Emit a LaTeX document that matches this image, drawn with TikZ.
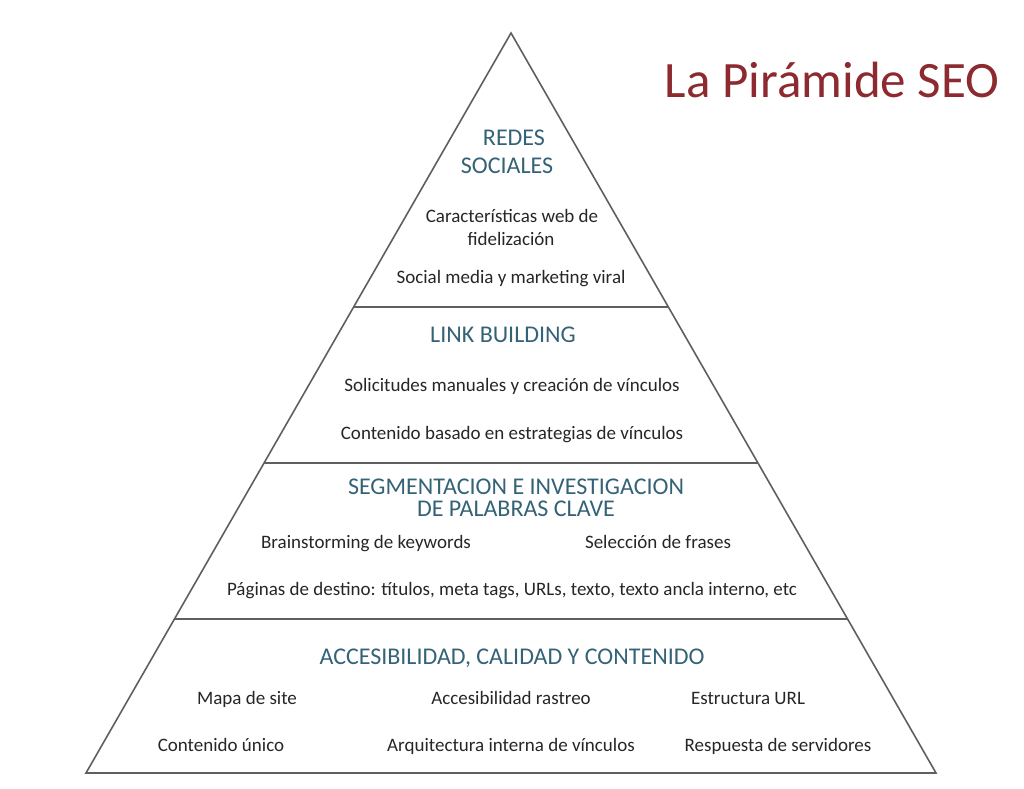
\documentclass[tikz,border=0pt]{standalone}
\usepackage{fontspec}
\setmainfont{Carlito}
\usetikzlibrary{calc}
\definecolor{titlered}{RGB}{140,42,48}
\definecolor{headteal}{RGB}{52,98,118}
\definecolor{bodygray}{RGB}{38,38,38}
\definecolor{edgegray}{RGB}{95,95,95}
\begin{document}
\begin{tikzpicture}[x=1pt, y=-1pt,
    heading/.style={text=headteal, font=\fontsize{24}{28}\selectfont, inner sep=0pt, anchor=base},
    item/.style={text=bodygray, font=\fontsize{19}{24}\selectfont, inner sep=0pt, anchor=base},
    edge/.style={draw=edgegray, line width=1.6pt, line join=miter}]
    \useasboundingbox (0,0) rectangle (1024,788);

    % Pyramid outline
    \coordinate (apex) at (511,33);
    \coordinate (baseL) at (86,773);
    \coordinate (baseR) at (936,773);
    \draw [edge] (apex) -- (baseL) -- (baseR) -- cycle;

    % Layer dividers
    \draw [edge] ($(apex)!0.3703!(baseL)$) -- ($(apex)!0.3703!(baseR)$);
    \draw [edge] ($(apex)!0.5811!(baseL)$) -- ($(apex)!0.5811!(baseR)$);
    \draw [edge] ($(apex)!0.7919!(baseL)$) -- ($(apex)!0.7919!(baseR)$);

    % Title
    \node (title) [text=titlered, font=\fontsize{51}{56}\selectfont, inner sep=0pt] at (832,80) {La Pirámide SEO};

    % Top layer
    \node (redes) [heading] at (514,145) {REDES};
    \node (sociales) [heading] at (507,173) {SOCIALES};
    \node (caract) [item] at (512,222) {Características web de};
    \node (fidel) [item] at (511,245) {fidelización};
    \node (social) [item] at (511,283) {Social media y marketing viral};

    % Link building
    \node (link) [heading] at (503,342) {LINK BUILDING};
    \node (solic) [item] at (512,391) {Solicitudes manuales y creación de vínculos};
    \node (conten) [item] at (512,439) {Contenido basado en estrategias de vínculos};

    % Keywords
    \node (segm) [heading] at (516,494) {SEGMENTACION E INVESTIGACION};
    \node (palabras) [heading] at (516,516) {DE PALABRAS CLAVE};
    \node (brain) [item] at (366,548) {Brainstorming de keywords};
    \node (frases) [item] at (658,548) {Selección de frases};
    \node (paginas) [item] at (512,595) {Páginas de destino: títulos, meta tags, URLs, texto, texto ancla interno, etc};

    % Base layer
    \node (acces) [heading] at (512,664) {ACCESIBILIDAD, CALIDAD Y CONTENIDO};
    \node (mapa) [item] at (247,704) {Mapa de site};
    \node (rastreo) [item] at (511,704) {Accesibilidad rastreo};
    \node (estruct) [item] at (748,704) {Estructura URL};
    \node (unico) [item] at (221,751) {Contenido único};
    \node (arquit) [item] at (511,751) {Arquitectura interna de vínculos};
    \node (respuesta) [item] at (778,751) {Respuesta de servidores};
\end{tikzpicture}
\end{document}
